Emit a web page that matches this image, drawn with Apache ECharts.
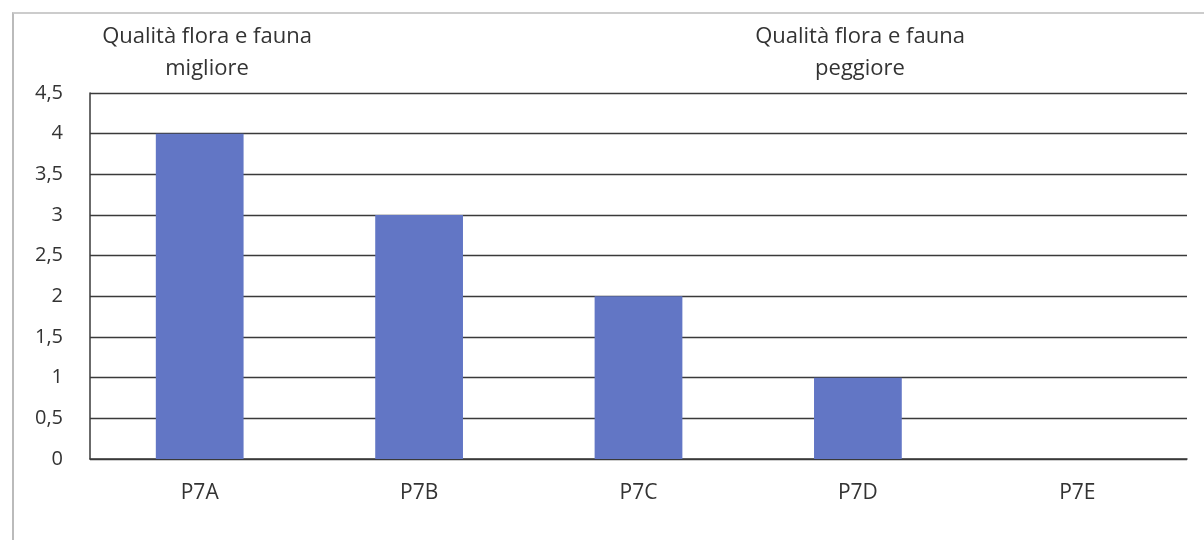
<!DOCTYPE html>
<html>
<head>
<meta charset="utf-8">
<script src="https://cdn.jsdelivr.net/npm/echarts@6/dist/echarts.min.js"></script>
<style>
html,body{margin:0;padding:0;background:#fff;}
#frame{position:absolute;left:12px;top:12px;width:1200px;height:540px;border-left:2px solid #bbb;border-top:2px solid #ccc;box-sizing:border-box;}
#c{position:absolute;left:0;top:0;width:1204px;height:540px;}
</style>
</head>
<body>
<div id="frame"></div>
<div id="c"></div>
<script>
const categories = ['P7A', 'P7B', 'P7C', 'P7D', 'P7E'];
const values = [4, 3, 2, 1, 0];
const noteLeft = 'Qualità flora e fauna\nmigliore';
const noteRight = 'Qualità flora e fauna\npeggiore';

const chart = echarts.init(document.getElementById('c'), null, {renderer: 'canvas'});
const font = '"Open Sans", "Liberation Sans", sans-serif';
chart.setOption({
  animation: false,
  backgroundColor: 'transparent',
  grid: {left: 90, right: 17, top: 93, bottom: 81},
  xAxis: {
    type: 'category',
    data: categories,
    axisLine: {show: true, lineStyle: {color: '#3a3a3a', width: 1.5}},
    axisTick: {show: false},
    axisLabel: {color: '#333', fontSize: 21, fontFamily: font, margin: 24}
  },
  yAxis: {
    type: 'value',
    min: 0, max: 4.5, interval: 0.5,
    axisLine: {show: true, lineStyle: {color: '#3a3a3a', width: 1.5}},
    axisTick: {show: false},
    splitLine: {lineStyle: {color: '#3a3a3a', width: 1.3}},
    axisLabel: {
      color: '#333', fontSize: 20, fontFamily: font, margin: 27,
      formatter: v => String(v).replace('.', ',')
    }
  },
  series: [{
    type: 'bar',
    data: values,
    barWidth: '40%',
    itemStyle: {color: '#6276c5'}
  }],
  graphic: [
    {type: 'text', x: 207, y: 21, style: {text: noteLeft, font: '22px ' + font, fill: '#333', align: 'center', textAlign: 'center', lineHeight: 32}},
    {type: 'text', x: 860, y: 21, style: {text: noteRight, font: '22px ' + font, fill: '#333', align: 'center', textAlign: 'center', lineHeight: 32}}
  ]
});
</script>
</body>
</html>
